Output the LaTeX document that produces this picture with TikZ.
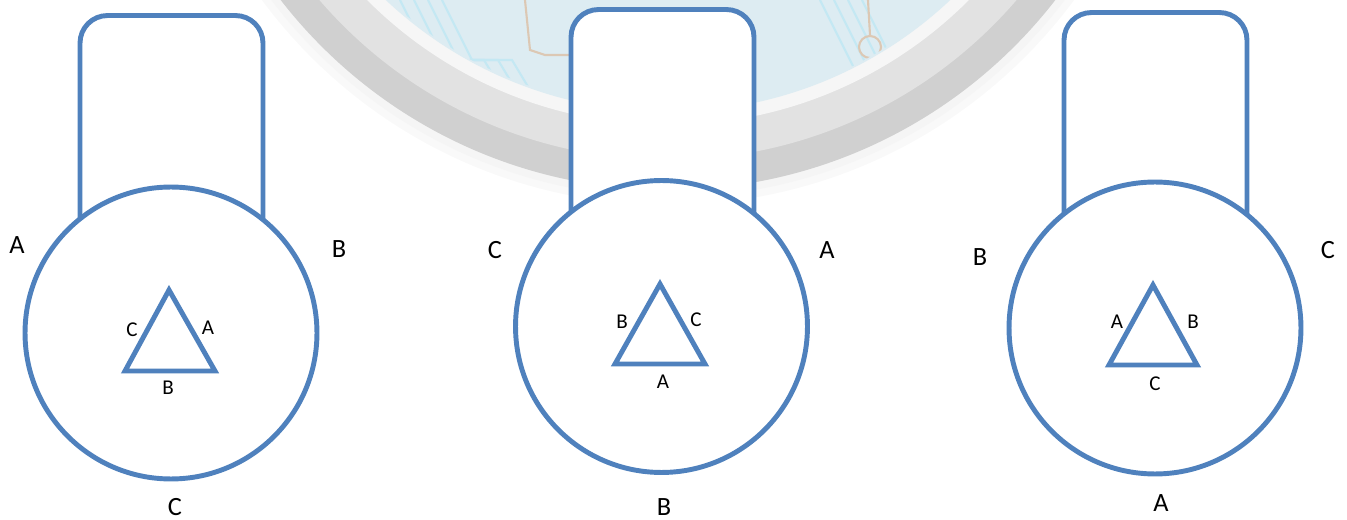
\documentclass[tikz,border=0pt]{standalone}
\usepackage{fontspec}
\setmainfont{Carlito}
\definecolor{lineblue}{HTML}{4F81BD}
\definecolor{ringdark}{HTML}{D0D0D0}
\definecolor{ringlight}{HTML}{E2E2E2}
\definecolor{diskblue}{HTML}{DDECF2}
\definecolor{traceblue}{HTML}{C4E8F3}
\definecolor{tracetan}{HTML}{DCC8B4}
\tikzset{
  tabbox/.style={draw=lineblue, line width=2.8pt, fill=white, rounded corners=0.55cm,
                 minimum width=3.66cm, minimum height=5.7cm, inner sep=0pt},
  bigcircle/.style={circle, draw=lineblue, line width=2.8pt, fill=white,
                 minimum size=5.84cm, inner sep=0pt},
  tri/.style={draw=lineblue, line width=2.8pt, line join=miter},
  biglabel/.style={font=\fontsize{15}{18}\selectfont, inner sep=0pt},
  smalllabel/.style={font=\fontsize{12}{14}\selectfont, inner sep=0pt}
}
\begin{document}
\begin{tikzpicture}[x=0.02cm,y=-0.02cm]
\useasboundingbox (0,0) rectangle (1347,520);
% faint background watermark
\begin{scope}
\clip (0,0) rectangle (1347,520);
\fill[gray!5] (668,-300) circle[radius=10.1cm];
\fill[gray!8] (668,-300) circle[radius=9.95cm];
\fill[ringdark] (668,-300) circle[radius=9.8cm];
\fill[ringlight] (668,-300) circle[radius=9.2cm];
\fill[white!70!ringlight] (668,-300) circle[radius=8.5cm];
\fill[diskblue] (668,-300) circle[radius=8.24cm];
\begin{scope}
\clip (668,-300) circle[radius=8.2cm];
\foreach \dx in {0,14,28,42}{
  \draw[traceblue, line width=1.2pt] (400+\dx,0) -- (430+\dx,60) -- (470+\dx,60) -- (500+\dx,110);
  \draw[traceblue, line width=1.2pt] (820+\dx,0) -- (860+\dx,80) -- (900+\dx,120);
}
\draw[tracetan, line width=1.2pt] (525,0) -- (530,50) -- (545,55) -- (620,55);
\draw[tracetan, line width=1.2pt] (868,0) -- (870,35);
\draw[tracetan, line width=1.2pt] (870,47) circle[radius=0.22cm];
\end{scope}
\end{scope}

% ---------- panel 1 ----------
\node[tabbox] (tab1) at (171.5,158) {};
\node[bigcircle] (c1) at (171,333) {};
\coordinate (t1a) at (169,290);
\coordinate (t1b) at (125,371);
\coordinate (t1c) at (215,371);
\draw[tri] (t1a) -- (t1b) -- (t1c) -- cycle;
\node[smalllabel] (s1l) at (132,330) {C};
\node[smalllabel] (s1r) at (208,328) {A};
\node[smalllabel] (s1b) at (168,388) {B};
\node[biglabel] (b1l) at (17,245) {A};
\node[biglabel] (b1r) at (339,249) {B};
\node[biglabel] (b1b) at (175,507) {C};

% ---------- panel 2 ----------
\node[tabbox] (tab2) at (662.5,152) {};
\node[bigcircle] (c2) at (661.5,326.5) {};
\coordinate (t2a) at (660,284);
\coordinate (t2b) at (615,364);
\coordinate (t2c) at (705,364);
\draw[tri] (t2a) -- (t2b) -- (t2c) -- cycle;
\node[smalllabel] (s2l) at (622,322) {B};
\node[smalllabel] (s2r) at (696,320) {C};
\node[smalllabel] (s2b) at (663,382) {A};
\node[biglabel] (b2l) at (495,250) {C};
\node[biglabel] (b2r) at (827,250) {A};
\node[biglabel] (b2b) at (664,507) {B};

% ---------- panel 3 ----------
\node[tabbox] (tab3) at (1155.5,155) {};
\node[bigcircle] (c3) at (1155,328) {};
\coordinate (t3a) at (1153,285);
\coordinate (t3b) at (1109,365);
\coordinate (t3c) at (1197,365);
\draw[tri] (t3a) -- (t3b) -- (t3c) -- cycle;
\node[smalllabel] (s3l) at (1117,322) {A};
\node[smalllabel] (s3r) at (1193,322) {B};
\node[smalllabel] (s3b) at (1155,384) {C};
\node[biglabel] (b3l) at (980,257) {B};
\node[biglabel] (b3r) at (1328,250) {C};
\node[biglabel] (b3b) at (1161,503) {A};
\end{tikzpicture}
\end{document}
